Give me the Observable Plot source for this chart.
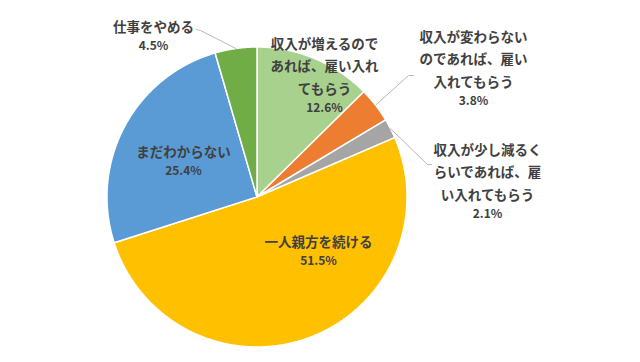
<!DOCTYPE html>
<html><head><meta charset="utf-8">
<script src="https://cdn.jsdelivr.net/npm/d3@7"></script>
<script src="https://cdn.jsdelivr.net/npm/@observablehq/plot@0.6"></script>
<style>html,body{margin:0;padding:0;background:#fff;}</style>
</head><body><div id="chart"></div>
<script>
// ---- data ----
const categories = [
  "収入が増えるので\nあれば、雇い入れ\nてもらう",
  "収入が変わらない\nのであれば、雇い\n入れてもらう",
  "収入が少し減るく\nらいであれば、雇\nい入れてもらう",
  "一人親方を続ける",
  "まだわからない",
  "仕事をやめる"
];
const values = [12.6, 3.8, 2.1, 51.5, 25.4, 4.5];
const colors = ["#A9D18E", "#ED7D31", "#A5A5A5", "#FFC000", "#5B9BD5", "#70AD47"];

// ---- layout (pixels) ----
const W = 640, H = 362, CX = 256.5, CY = 196.5, R = 150;
// percent-label centers
const labelPos = [[324,107],[473,100],[487,213],[318,260],[183,170],[153,45]];
// leader lines: [label end, elbow] (null = no leader)
const leaders = [null, [[413,75],[408,75]], [[431,164],[427,164]], null, null, [[196,29],[200,30]]];

const toX = px => (px - CX) / R;
const toY = py => (CY - py) / R;

const pie = d3.pie().sort(null).value(d => d)(values);
const slicePts = [];
pie.forEach((p, i) => {
  slicePts.push({cat: categories[i], x: 0, y: 0});
  const n = Math.max(4, Math.ceil((p.endAngle - p.startAngle) / 0.005));
  for (let k = 0; k <= n; k++) {
    const a = p.startAngle + (p.endAngle - p.startAngle) * k / n;
    slicePts.push({cat: categories[i], x: Math.sin(a), y: Math.cos(a)});
  }
  slicePts.push({cat: categories[i], x: 0, y: 0});
});

const leaderPts = [];
pie.forEach((p, i) => {
  if (!leaders[i]) return;
  const a = (p.startAngle + p.endAngle) / 2;
  const [end, elbow] = leaders[i];
  leaderPts.push({k: i, x: toX(end[0]), y: toY(end[1])});
  leaderPts.push({k: i, x: toX(elbow[0]), y: toY(elbow[1])});
  leaderPts.push({k: i, x: Math.sin(a), y: Math.cos(a)});
});

const labels = categories.map((c, i) => ({
  name: c, pct: values[i].toFixed(1) + "%",
  x: toX(labelPos[i][0]), y: toY(labelPos[i][1])
}));

const font = "'Noto Sans CJK JP', 'Noto Sans', sans-serif";
const chart = Plot.plot({
  width: W, height: H,
  margin: 0,
  x: {domain: [toX(0), toX(W)], axis: null},
  y: {domain: [toY(H), toY(0)], axis: null},
  color: {domain: categories, range: colors},
  style: {fontFamily: font, background: "#fff"},
  marks: [
    Plot.line(slicePts, {x: "x", y: "y", z: "cat", fill: "cat", stroke: "#fff", strokeWidth: 1.5, curve: "linear"}),
    Plot.line(leaderPts, {x: "x", y: "y", z: "k", stroke: "#a6a6a6", strokeWidth: 0.8}),
    Plot.text(labels, {x: "x", y: "y", text: "name", lineAnchor: "bottom", dy: -14, lineHeight: 1.65,
      fontSize: 13.5, fontWeight: "bold", fill: "#404040"}),
    Plot.text(labels, {x: "x", y: "y", text: "pct", dy: 1, fontSize: 12, fontWeight: "bold", fill: "#404040"})
  ]
});
document.getElementById("chart").appendChild(chart);
</script>
</body></html>
